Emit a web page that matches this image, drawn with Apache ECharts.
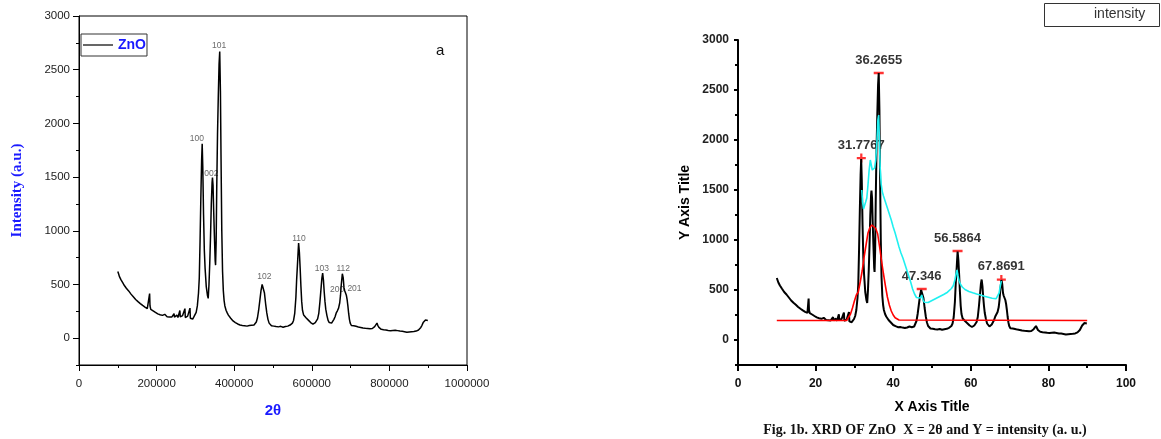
<!DOCTYPE html>
<html lang="en">
<head>
    <meta charset="UTF-8">
    <title>XRD of ZnO</title>
    <script src="https://cdn.jsdelivr.net/npm/echarts@6.0.0/dist/echarts.min.js"></script>
    <style>
        html, body { margin: 0; padding: 0; background: #fff; }
        #chart { width: 1161px; height: 439px; }
    </style>
</head>
<body>
    <div id="chart"></div>
    <script>
        // measured XRD pattern, 2theta (deg) and intensity (a.u.)
        var twoTheta = [10.0, 10.2, 10.4, 10.6, 10.8, 11.0, 11.3, 11.6, 11.9, 12.2, 12.5, 12.8, 13.1, 13.4, 13.7, 14.0, 14.3, 14.6, 14.9, 15.2,
            15.5, 15.8, 16.1, 16.4, 16.7, 17.0, 17.3, 17.6, 17.9, 18.1, 18.2, 18.3, 18.5, 18.8, 19.1, 19.4, 19.7, 20.0, 20.3, 20.6,
            20.9, 21.2, 21.5, 21.8, 22.1, 22.4, 22.7, 23.0, 23.3, 23.6, 23.9, 24.2, 24.5, 24.6, 24.9, 25.2, 25.5, 25.8, 26.0, 26.1,
            26.4, 26.7, 27.0, 27.3, 27.4, 27.7, 28.0, 28.3, 28.6, 28.7, 29.0, 29.3, 29.6, 29.9, 30.2, 30.5, 30.8, 31.0, 31.2, 31.4,
            31.6, 31.75, 31.9, 32.1, 32.3, 32.5, 32.8, 33.1, 33.3, 33.5, 33.7, 33.9, 34.1, 34.3, 34.4, 34.55, 34.7, 34.9, 35.1, 35.2,
            35.35, 35.5, 35.7, 35.9, 36.1, 36.27, 36.45, 36.6, 36.8, 37.0, 37.2, 37.4, 37.6, 37.9, 38.2, 38.5, 38.8, 39.1, 39.4, 39.7,
            40.0, 40.3, 40.6, 40.9, 41.2, 41.5, 41.8, 42.1, 42.4, 42.7, 43.0, 43.3, 43.6, 43.9, 44.2, 44.5, 44.8, 45.1, 45.4, 45.7,
            46.0, 46.3, 46.6, 46.9, 47.2, 47.35, 47.5, 47.8, 48.1, 48.4, 48.7, 49.0, 49.3, 49.6, 49.9, 50.2, 50.5, 50.8, 51.1, 51.4,
            51.7, 52.0, 52.3, 52.6, 52.9, 53.2, 53.5, 53.8, 54.1, 54.4, 54.7, 55.0, 55.3, 55.6, 55.9, 56.1, 56.3, 56.5, 56.6, 56.8,
            57.0, 57.2, 57.4, 57.6, 57.9, 58.2, 58.5, 58.8, 59.1, 59.4, 59.7, 60.0, 60.3, 60.6, 60.9, 61.2, 61.5, 61.8, 62.1, 62.4,
            62.6, 62.8, 63.0, 63.2, 63.4, 63.6, 63.9, 64.2, 64.5, 64.8, 65.1, 65.4, 65.7, 66.0, 66.3, 66.6, 66.9, 67.2, 67.4, 67.6,
            67.87, 68.1, 68.3, 68.5, 68.7, 68.9, 69.1, 69.3, 69.5, 69.7, 69.9, 70.2, 70.5, 70.8, 71.1, 71.4, 71.7, 72.0, 72.3, 72.6,
            72.9, 73.2, 73.5, 73.8, 74.1, 74.4, 74.7, 75.0, 75.3, 75.6, 75.9, 76.2, 76.5, 76.8, 77.0, 77.3, 77.6, 77.9, 78.2, 78.5,
            78.8, 79.1, 79.4, 79.7, 80.0, 80.3, 80.6, 80.9, 81.2, 81.5, 81.8, 82.1, 82.4, 82.7, 83.0, 83.3, 83.6, 83.9, 84.2, 84.5,
            84.8, 85.1, 85.4, 85.7, 86.0, 86.3, 86.6, 86.9, 87.2, 87.5, 87.8, 88.1, 88.4, 88.7, 89.0, 89.3, 89.6, 89.9];
        var intensity = [620, 600, 575, 560, 545, 530, 515, 495, 480, 465, 455, 440, 425, 410, 395, 385, 372, 360, 352, 340,
            330, 322, 312, 305, 296, 290, 282, 276, 272, 280, 415, 300, 268, 262, 255, 248, 240, 232, 226, 222,
            218, 225, 212, 208, 222, 205, 200, 215, 198, 210, 196, 205, 228, 195, 200, 214, 192, 205, 258, 198,
            190, 210, 195, 275, 192, 188, 205, 190, 280, 186, 192, 178, 198, 210, 240, 300, 420, 560, 900, 1300,
            1650, 1810, 1600, 1150, 820, 650, 480, 400, 370, 500, 700, 950, 1250, 1450, 1495, 1420, 1200, 950, 720, 680,
            900, 1400, 1900, 2250, 2550, 2670, 2300, 1700, 1000, 620, 440, 350, 300, 260, 235, 215, 200, 185, 175, 160,
            150, 145, 138, 132, 128, 122, 130, 118, 124, 115, 120, 112, 125, 118, 135, 120, 128, 122, 135, 150,
            190, 260, 350, 440, 500, 512, 495, 420, 320, 235, 175, 140, 125, 115, 108, 112, 100, 108, 96, 105,
            98, 110, 95, 102, 98, 108, 104, 112, 115, 122, 130, 140, 165, 230, 380, 550, 680, 820, 885, 800,
            650, 480, 340, 260, 215, 200, 190, 178, 168, 155, 145, 140, 130, 135, 145, 155, 180, 230, 340, 470,
            560, 605, 540, 430, 340, 270, 210, 165, 145, 135, 140, 155, 175, 200, 235, 255, 280, 330, 400, 500,
            600, 560, 470, 440, 420, 400, 360, 300, 230, 175, 140, 118, 112, 115, 108, 110, 100, 104, 96, 100,
            92, 95, 88, 92, 85, 90, 84, 88, 82, 90, 95, 108, 125, 140, 120, 100, 88, 82, 85, 78,
            82, 75, 80, 72, 78, 70, 76, 72, 80, 74, 78, 70, 74, 66, 72, 64, 68, 60, 65, 55,
            62, 58, 64, 60, 68, 62, 70, 66, 72, 76, 85, 100, 120, 145, 160, 170, 178, 165];

        // fitted background + main peak (red) and envelope (cyan), right panel
        var fitX = [10, 28.0, 28.5, 29.0, 29.5, 30.0, 30.5, 31.0, 31.5, 32.0, 32.5, 33.0, 33.5, 34.0, 34.5, 35.0, 35.5, 36.0,
            36.5, 37.0, 37.5, 38.0, 38.5, 39.0, 39.5, 40.0, 40.5, 41.0, 41.5, 42.0, 90];
        var fitY = [195, 195, 215, 260, 320, 390, 450, 480, 580, 690, 830, 950, 1070, 1125, 1150, 1140, 1115, 1060,
            930, 790, 660, 540, 430, 350, 290, 250, 222, 208, 200, 196, 195];
        var envX = [31.9, 32.1, 32.35, 32.6, 32.9, 33.2, 33.5, 33.8, 34.1, 34.3, 34.6, 34.9, 35.2, 35.5, 35.8, 36.05, 36.25,
            36.45, 36.65, 36.9, 37.2, 37.5, 38.0, 38.5, 39.0, 39.5, 40.0, 40.5, 41.0, 41.5, 42.0, 42.5, 43.0, 43.5, 44.0,
            44.5, 45.0, 45.5, 46.0, 46.5, 47.0, 47.35, 47.7, 48.0, 48.5, 49.0, 49.5, 50.0, 50.5, 51.0, 51.5, 52.0, 52.5,
            53.0, 53.5, 54.0, 54.5, 55.0, 55.5, 55.9, 56.2, 56.45, 56.7, 57.0, 57.3, 57.8, 58.5, 59.0, 59.5, 60.0, 60.5,
            61.0, 61.5, 62.0, 62.5, 63.0, 63.5, 64.0, 64.5, 65.0, 65.5, 66.0, 66.5, 66.9, 67.3, 67.6, 67.87];
        var envY = [1500, 1380, 1310, 1330, 1380, 1420, 1550, 1700, 1800, 1790, 1700, 1680, 1720, 1800, 1980, 2200, 2250,
            2000, 1720, 1560, 1480, 1440, 1380, 1320, 1260, 1200, 1130, 1070, 1000, 930, 870, 820, 760, 700, 640,
            580, 510, 460, 425, 405, 420, 450, 400, 378, 370, 375, 385, 395, 405, 415, 425, 435, 445,
            455, 465, 478, 495, 515, 545, 600, 660, 700, 640, 590, 560, 530, 505, 495, 485, 478, 472,
            466, 460, 455, 450, 444, 438, 432, 428, 422, 418, 414, 412, 420, 470, 540, 590];

        // picked peaks (right panel)
        var peakX = [31.7767, 36.2655, 47.346, 56.5864, 67.8691];
        var peakY = [1820, 2670, 510, 890, 605];
        var peakMark = ['+', '-', '-', '-', '+'];

        // hkl labels (left panel), anchored in data coordinates
        var hklName = ['100', '002', '101', '102', '110', '103', '112', '200', '201'];
        var hklX = [30.4, 34.1, 36.1, 47.8, 56.7, 62.6, 68.1, 66.5, 71.0];
        var hklY = [1856, 1532, 2723, 572, 928, 647, 647, 450, 459];

        var leftXTicks = ['0', '200000', '400000', '600000', '800000', '1000000'];
        var yMajor = [0, 500, 1000, 1500, 2000, 2500, 3000];
        var yMinor = [-250, 250, 750, 1250, 1750, 2250, 2750];

        var xrd = twoTheta.map(function(x, i) { return [x, intensity[i]]; });
        var fit = fitX.map(function(x, i) { return [x, fitY[i]]; });
        var env = envX.map(function(x, i) { return [x, envY[i]]; });
        var plusPath = 'path://M3,0h2v3h3v2h-3v3h-2v-3h-3v-2h3z';
        var peaks = peakX.map(function(x, i) {
            var plus = peakMark[i] === '+';
            return {
                value: [x, peakY[i]],
                symbol: plus ? plusPath : 'rect',
                symbolSize: plus ? [9, 9] : [10, 2.5]
            };
        });
        var hkl = hklName.map(function(n, i) {
            return { name: n, value: [hklX[i], hklY[i]] };
        });

        var blue = '#1a1aff';
        var chart = echarts.init(document.getElementById('chart'));

        function yAxisPair(grid, bold, tickLen, lineWidth, nameOpt) {
            var main = Object.assign({
                type: 'value', gridIndex: grid, position: 'left', min: -250, max: 3000,
                axisLine: { show: true, lineStyle: { color: '#000', width: lineWidth } },
                axisTick: { show: true, customValues: yMajor, length: tickLen, lineStyle: { color: '#000', width: lineWidth } },
                axisLabel: {
                    customValues: yMajor, margin: 9, color: '#222',
                    fontFamily: 'Arial, Liberation Sans', fontSize: bold ? 12 : 11.5, fontWeight: bold ? 'bold' : 'normal',
                    formatter: function(v) { return String(v); }
                },
                splitLine: { show: false }
            }, nameOpt);
            var minor = {
                type: 'value', gridIndex: grid, position: 'left', min: -250, max: 3000,
                axisLine: { show: false },
                axisTick: { show: true, customValues: yMinor, length: 3, lineStyle: { color: '#000', width: lineWidth } },
                axisLabel: { show: false },
                splitLine: { show: false }
            };
            return [main, minor];
        }

        var yAxes = yAxisPair(0, false, 6, 1, {
            name: 'Intensity (a.u.)', nameLocation: 'middle', nameGap: 54,
            nameTextStyle: { color: blue, fontFamily: 'Liberation Serif, Times New Roman', fontWeight: 'bold', fontSize: 15 }
        }).concat(yAxisPair(1, true, 4, 2, {
            name: 'Y Axis Title', nameLocation: 'middle', nameGap: 46,
            nameTextStyle: { color: '#000', fontFamily: 'Arial, Liberation Sans', fontWeight: 'bold', fontSize: 14 }
        }));

        chart.setOption({
            animation: false,
            backgroundColor: '#fff',
            grid: [
                { left: 79, right: 694, top: 16, bottom: 74, show: true, borderColor: '#000', borderWidth: 1 },
                { left: 738, right: 35, top: 40, bottom: 74 }
            ],
            legend: {
                data: ['ZnO'],
                left: 81, top: 34,
                padding: [4, 1, 4, 2],
                icon: 'rect',
                itemWidth: 30, itemHeight: 1.2,
                borderColor: '#333', borderWidth: 1,
                textStyle: { color: blue, fontFamily: 'Arial, Liberation Sans', fontWeight: 'bold', fontSize: 14 }
            },
            xAxis: [{
                type: 'value', gridIndex: 0, min: 0, max: 100, interval: 20,
                name: '2θ', nameLocation: 'middle', nameGap: 38,
                nameTextStyle: { color: blue, fontFamily: 'Arial, Liberation Sans', fontWeight: 'bold', fontSize: 15 },
                axisLine: { onZero: false, lineStyle: { color: '#000', width: 1 } },
                axisTick: { length: 6, lineStyle: { color: '#000' } },
                minorTick: { show: true, splitNumber: 2, length: 3, lineStyle: { color: '#000' } },
                axisLabel: {
                    margin: 13, color: '#222', fontFamily: 'Arial, Liberation Sans', fontSize: 11.5,
                    formatter: function(v, i) { return leftXTicks[i]; }
                },
                splitLine: { show: false }
            }, {
                type: 'value', gridIndex: 1, min: 0, max: 100, interval: 20,
                name: 'X Axis Title', nameLocation: 'middle', nameGap: 35,
                nameTextStyle: { color: '#000', fontFamily: 'Arial, Liberation Sans', fontWeight: 'bold', fontSize: 14 },
                axisLine: { onZero: false, lineStyle: { color: '#000', width: 2 } },
                axisTick: { length: 6, lineStyle: { color: '#000', width: 2 } },
                minorTick: { show: true, splitNumber: 2, length: 3, lineStyle: { color: '#000', width: 2 } },
                axisLabel: { margin: 13, color: '#111', fontFamily: 'Arial, Liberation Sans', fontWeight: 'bold', fontSize: 12 },
                splitLine: { show: false }
            }],
            yAxis: yAxes,
            graphic: [
                { type: 'text', left: 436, top: 43, style: { text: 'a', font: '15px Arial, Liberation Sans', fill: '#111' } },
                { type: 'rect', shape: { x: 1044.5, y: 3.5, width: 115, height: 23 }, style: { fill: '#fff', stroke: '#333', lineWidth: 1 } },
                { type: 'text', left: 1094, top: 7, style: { text: 'intensity', font: '14px Arial, Liberation Sans', fill: '#333' } },
                {
                    type: 'text', x: 925, y: 430,
                    style: {
                        text: 'Fig. 1b. XRD OF ZnO  X = 2θ and Y = intensity (a. u.)',
                        font: 'bold 14px Liberation Serif, Times New Roman', fill: '#111',
                        textAlign: 'center', textVerticalAlign: 'middle'
                    }
                }
            ],
            series: [{
                name: 'ZnO', type: 'line', xAxisIndex: 0, yAxisIndex: 0,
                data: xrd, symbol: 'none', color: '#000',
                lineStyle: { color: '#000', width: 1.5 }
            }, {
                type: 'scatter', xAxisIndex: 0, yAxisIndex: 0, data: hkl,
                symbolSize: 0, silent: true,
                label: { show: true, position: 'inside', formatter: '{b}', color: '#444', fontSize: 8.5, fontFamily: 'Arial, Liberation Sans' }
            }, {
                name: 'intensity', type: 'line', xAxisIndex: 1, yAxisIndex: 2,
                data: xrd, symbol: 'none', color: '#000',
                lineStyle: { color: '#000', width: 2 }
            }, {
                type: 'line', xAxisIndex: 1, yAxisIndex: 2,
                data: fit, symbol: 'none',
                lineStyle: { color: '#ff0000', width: 1.6 }
            }, {
                type: 'line', xAxisIndex: 1, yAxisIndex: 2,
                data: env, symbol: 'none',
                lineStyle: { color: '#1ff0f0', width: 1.6 }
            }, {
                type: 'scatter', xAxisIndex: 1, yAxisIndex: 2, data: peaks,
                itemStyle: { color: '#ff0000' },
                label: {
                    show: true, position: 'inside', offset: [0, -13],
                    formatter: function(p) { return String(p.value[0]); },
                    color: '#000', fontSize: 13, fontWeight: 'bold', fontFamily: 'Arial, Liberation Sans'
                }
            }]
        });
    </script>
</body>
</html>
